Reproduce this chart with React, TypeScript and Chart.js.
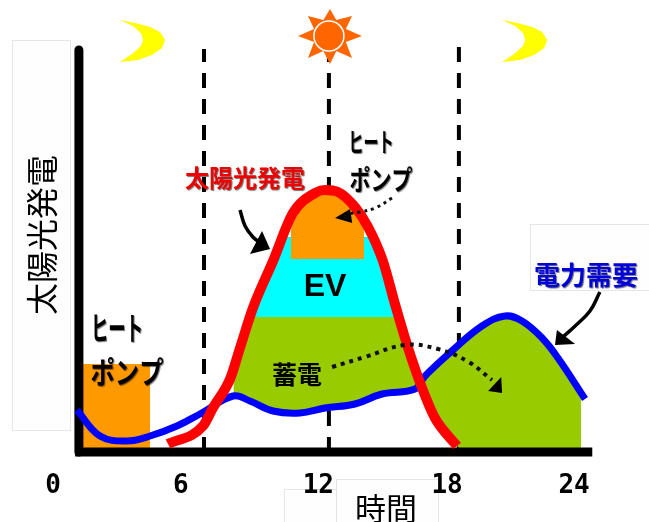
import { useEffect, useRef } from "react";
import { Chart, registerables } from "chart.js";

Chart.register(...registerables);

const JP = '"Noto Sans CJK JP", "Noto Sans", sans-serif';

// Hour of day on x, output level on y.
const demandHours = [0, 1.09, 2.36, 3.45, 4.72, 5.81, 7.37, 8.17, 9.26, 10.53, 11.71, 13.13, 14.41, 15.97, 16.44, 17.71, 19.13, 20.22, 21.02, 21.97, 22.72, 24];
const demandLevels = [42, 16, 11, 16, 26, 38, 56, 51, 41, 39, 44, 48, 58, 63, 76, 101, 126, 136, 131, 114, 94, 53];
const solarHours = [4.3, 5.95, 6.42, 7.23, 7.7, 8.31, 9.26, 10.2, 11.34, 11.71, 12.33, 13.13, 13.75, 14.45, 15.02, 15.64, 16.3, 16.91, 17.95];
const solarLevels = [8, 26, 44, 73, 104, 144, 191, 239, 260, 262, 260, 245, 225, 191, 148, 104, 64, 34, 6];

// Filled bands: heat pump at night and noon, EV, storage and its evening discharge.
const nightPumpHours = [0.14, 0.14, 3.45, 3.45];
const nightPumpLevels = [4, 88, 88, 4];
const noonPumpHours = [10.11, 10.11, 10.3, 11.34, 11.71, 12.33, 13.3, 13.56, 13.56];
const noonPumpLevels = [193, 222, 245, 262, 262, 262, 245, 225, 193];
const evHours = [8.3, 9.1, 9.8, 13.95, 14.6, 15.1];
const evLevels = [135, 181, 215, 215, 181, 135];
const storageHours = [8.3, 15.1, 16.1, 15.97, 14.41, 13.13, 11.71, 10.53, 9.26, 8.17, 7.37, 7.4];
const storageLevels = [135, 135, 63, 63, 58, 48, 44, 39, 41, 51, 56, 71];
const eveningHours = [16.44, 17.71, 19.13, 20.22, 21.02, 21.97, 22.72, 23.81, 23.81, 18.04, 16.91, 16.3];
const eveningLevels = [73, 100, 125, 135, 130, 113, 93, 53, 4, 4, 33, 63];

// Time markers and axes.
const markerHours = [6, 11.9, 18.04];
const markerTops = [403, 403, 408];
const axisEndHour = 24.34;
const axisTopLevel = 402;

// Sky symbols.
const moonOneHours = [2.03, 2.74, 3.45, 3.92, 4.16, 4.02, 3.54, 2.88, 2.03, 2.6, 3.02, 3.12, 3.02, 2.65];
const moonTwoHours = [20.08, 20.79, 21.5, 21.97, 22.21, 22.07, 21.59, 20.93, 20.08, 20.65, 21.07, 21.17, 21.07, 20.7];
const moonLevels = [432, 429, 425, 420, 412, 404, 397, 392, 390, 398, 406, 412, 419, 426];
const sunRayHours = [13.46, 12.7, 12.99, 12.25, 11.95, 11.64, 10.91, 11.2, 10.44, 11.2, 10.91, 11.64, 11.95, 12.25, 12.99, 12.7];
const sunRayLevels = [416, 410, 394, 401, 388, 401, 394, 410, 416, 423, 436, 432, 443, 432, 436, 423];

// Arrows: curved shaft plus triangular head.
const solarArrowHours = [7.7, 7.94, 8.31, 8.74];
const solarArrowLevels = [242, 226, 215, 208];
const solarHeadHours = [9.12, 8.74, 8.17];
const solarHeadLevels = [203, 221, 198];
const demandArrowHours = [24.7, 24.23, 23.53, 22.9];
const demandArrowLevels = [160, 141, 126, 114];
const demandHeadHours = [22.67, 22.58, 23.53];
const demandHeadLevels = [122, 107, 108];
const pumpArrowHours = [14.88, 14.08, 13.37, 12.7];
const pumpArrowLevels = [254, 244, 240, 238];
const pumpHeadHours = [12.19, 12.9, 13.0];
const pumpHeadLevels = [234, 243, 229];
const chargeArrowHours = [12.05, 13.6, 15.5, 17.05, 18.5, 19.6];
const chargeArrowLevels = [85, 95, 107, 103, 90, 72];
const chargeHeadHours = [20.08, 20.04, 19.42];
const chargeHeadLevels = [59, 75, 61];

// Axis tick captions and where each sits along the hour scale.
const tickLabels = ["0", "6", "12", "18", "24"];
const tickHours = [-1.13, 4.9, 11.4, 17.48, 23.48];

const zip = (xs: number[], ys: number[]) => xs.map((x, i) => ({ x, y: ys[i] }));

const shape = (xs: number[], ys: number[], color: string) => ({
  data: zip(xs, ys),
  backgroundColor: color,
  borderColor: color,
  borderWidth: 0,
  fill: "shape",
  pointRadius: 0,
  clip: false,
});

const stroke = (xs: number[], ys: number[], color: string, width: number, extra = {}) => ({
  data: zip(xs, ys),
  borderColor: color,
  borderWidth: width,
  fill: false,
  pointRadius: 0,
  clip: false,
  ...extra,
});

// Painted from back to front.
const layers = [
  ...markerHours.map((h, i) =>
    stroke([h, h], [0, markerTops[i]], "#000000", 4, { borderDash: [15, 11] })
  ),
  shape(nightPumpHours, nightPumpLevels, "#ff9900"),
  shape(eveningHours, eveningLevels, "#99cc00"),
  shape(storageHours, storageLevels, "#99cc00"),
  shape(evHours, evLevels, "#00ffff"),
  shape(noonPumpHours, noonPumpLevels, "#ff9900"),
  stroke([0.09, 0.09], [0, axisTopLevel], "#000000", 9, { borderCapStyle: "round" }),
  stroke([-0.09, axisEndHour], [0, 0], "#000000", 9),
  stroke(demandHours, demandLevels, "#0000ff", 7, { tension: 0.4, label: "電力需要" }),
  stroke(solarHours, solarLevels, "#ff0000", 10, { cubicInterpolationMode: "monotone", label: "太陽光発電" }),
  stroke(pumpArrowHours, pumpArrowLevels, "#111111", 3, { borderDash: [3, 4], tension: 0.4 }),
  shape(pumpHeadHours, pumpHeadLevels, "#000000"),
  stroke(chargeArrowHours, chargeArrowLevels, "#111111", 4, { borderDash: [4, 5], tension: 0.4 }),
  shape(chargeHeadHours, chargeHeadLevels, "#000000"),
  stroke(solarArrowHours, solarArrowLevels, "#000000", 3.5, { tension: 0.4 }),
  shape(solarHeadHours, solarHeadLevels, "#000000"),
  stroke(demandArrowHours, demandArrowLevels, "#000000", 3.5, { tension: 0.4 }),
  shape(demandHeadHours, demandHeadLevels, "#000000"),
  shape(moonOneHours, moonLevels, "#ffff00"),
  shape(moonTwoHours, moonLevels, "#ffff00"),
  shape(sunRayHours, sunRayLevels, "#ff6600"),
  {
    data: [{ x: 11.9, y: 416 }],
    pointRadius: 15,
    pointBackgroundColor: "#ff6600",
    pointBorderColor: "#ffffff",
    pointBorderWidth: 1.5,
    showLine: false,
    clip: false,
  },
];

// Pale frames sitting behind everything else.
const frames = [
  [12, 40, 58, 390],
  [530, 224, 125, 66],
  [284, 489, 60, 40],
  [336, 479, 102, 50],
];

const captionPlugin = {
  id: "captions",
  beforeDraw(chart: Chart) {
    const ctx = chart.ctx;
    ctx.save();
    ctx.strokeStyle = "#e6e6e6";
    ctx.fillStyle = "#fefefe";
    ctx.lineWidth = 1;
    for (const [x, y, w, h] of frames) {
      ctx.fillRect(x, y, w, h);
      ctx.strokeRect(x + 0.5, y + 0.5, w, h);
    }
    ctx.restore();
  },
  afterDatasetsDraw(chart: Chart) {
    const ctx = chart.ctx;
    const put = (
      text: string,
      x: number,
      y: number,
      font: string,
      color: string,
      maxWidth?: number,
      shadow = false
    ) => {
      ctx.save();
      ctx.font = font;
      ctx.fillStyle = color;
      ctx.textAlign = "center";
      ctx.textBaseline = "middle";
      if (shadow) {
        ctx.shadowColor = "rgba(0,0,0,0.55)";
        ctx.shadowOffsetX = 1;
        ctx.shadowOffsetY = 1;
        ctx.shadowBlur = 1;
      }
      ctx.fillText(text, x, y, maxWidth);
      ctx.restore();
    };
    put("EV", 325, 287, 'bold 32px "Liberation Sans", sans-serif', "#000000");
    put("蓄電", 297, 374, `bold 25px ${JP}`, "#000000");
    put("ヒート", 117, 328, `bold 32px ${JP}`, "#000000", 52, true);
    put("ポンプ", 127, 372, `bold 30px ${JP}`, "#000000", 73, true);
    put("ヒート", 371, 142, `bold 26px ${JP}`, "#000000", 45, true);
    put("ポンプ", 381, 180, `bold 27px ${JP}`, "#000000", 63, true);
    put("太陽光発電", 245, 178, `bold 24px ${JP}`, "#ee0000", 120, true);
    put("電力需要", 586, 275, `bold 26px ${JP}`, "#0000dd", 107, true);
    put("時間", 386, 508, `31px ${JP}`, "#000000");
    ctx.save();
    ctx.translate(42, 235);
    ctx.rotate(-Math.PI / 2);
    put("太陽光発電", 0, 0, `32px ${JP}`, "#000000");
    ctx.restore();
  },
};

export default function App() {
  const canvasRef = useRef<HTMLCanvasElement>(null);

  useEffect(() => {
    const chart = new Chart(canvasRef.current!, {
      type: "line",
      data: { datasets: layers.slice().reverse() as any },
      plugins: [captionPlugin],
      options: {
        animation: false,
        responsive: false,
        layout: { padding: 0, autoPadding: false },
        plugins: { legend: { display: false }, tooltip: { enabled: false } },
        scales: {
          x: {
            type: "linear",
            min: -3.637,
            max: 27.02,
            grid: { display: false },
            border: { display: false },
            afterBuildTicks: (scale: any) => {
              scale.ticks = tickHours.map((value) => ({ value }));
            },
            afterFit: (scale: any) => {
              scale.height = 70;
            },
            ticks: {
              autoSkip: false,
              maxRotation: 0,
              minRotation: 0,
              padding: 11,
              color: "#000000",
              font: { family: '"DejaVu Sans Mono", monospace', size: 26, weight: "bold" },
              callback: (_v: any, i: number) => tickLabels[i],
            },
          },
          y: { type: "linear", display: false, min: 0, max: 452 },
        },
      } as any,
    });
    return () => chart.destroy();
  }, []);

  return (
    <div style={{ position: "absolute", left: 0, top: 0, width: 649, height: 522, overflow: "hidden", background: "#ffffff" }}>
      <canvas ref={canvasRef} width={649} height={522} style={{ display: "block" }} />
    </div>
  );
}
